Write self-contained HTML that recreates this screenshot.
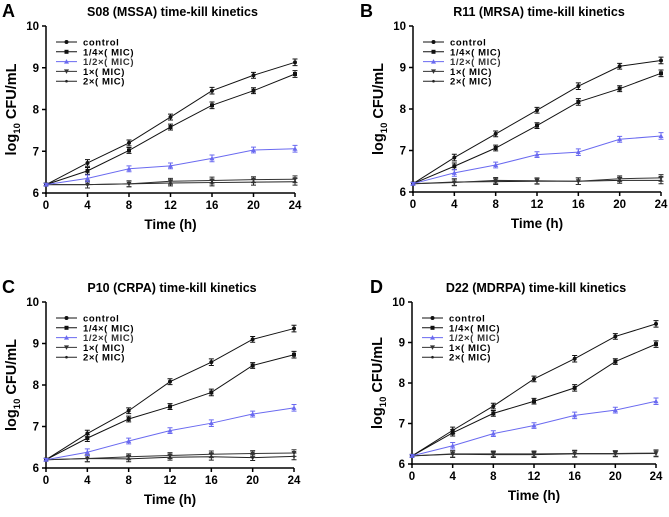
<!DOCTYPE html>
<html><head><meta charset="utf-8"><style>
body{margin:0;background:#fff;width:669px;height:512px;overflow:hidden}
svg text{font-family:"Liberation Sans",Arial,sans-serif;font-weight:bold}
</style></head><body>
<svg id="c" width="669" height="512" xmlns="http://www.w3.org/2000/svg"></svg>
<script>
const times=[0,4,8,12,16,20,24];
const yTicks=[6,7,8,9,10];
const seriesNames=["control","1/4×( MIC)","1/2×( MIC)","1×( MIC)","2×( MIC)"];
const aControl=[6.2,6.72,7.2,7.82,8.45,8.82,9.13];
const aQuarter=[6.2,6.53,7.02,7.58,8.1,8.45,8.85];
const aHalf=[6.2,6.35,6.58,6.65,6.83,7.03,7.06];
const aOne=[6.2,6.2,6.22,6.28,6.3,6.32,6.33];
const aTwo=[6.2,6.2,6.22,6.24,6.25,6.26,6.27];
const bControl=[6.2,6.83,7.4,7.97,8.55,9.03,9.17];
const bQuarter=[6.2,6.62,7.06,7.6,8.17,8.49,8.86];
const bHalf=[6.2,6.46,6.65,6.9,6.96,7.27,7.35];
const bOne=[6.2,6.23,6.28,6.27,6.26,6.32,6.34];
const bTwo=[6.2,6.24,6.25,6.26,6.26,6.28,6.28];
const cControl=[6.2,6.83,7.38,8.08,8.55,9.1,9.36];
const cQuarter=[6.2,6.72,7.18,7.48,7.82,8.47,8.73];
const cHalf=[6.2,6.38,6.65,6.9,7.08,7.3,7.45];
const cOne=[6.2,6.23,6.27,6.3,6.33,6.35,6.36];
const cTwo=[6.2,6.23,6.22,6.26,6.27,6.25,6.28];
const dControl=[6.2,6.83,7.43,8.1,8.6,9.15,9.46];
const dQuarter=[6.2,6.77,7.25,7.55,7.88,8.53,8.96];
const dHalf=[6.2,6.45,6.75,6.95,7.2,7.33,7.55];
const dOne=[6.2,6.25,6.25,6.25,6.26,6.26,6.27];
const dTwo=[6.2,6.24,6.23,6.23,6.25,6.25,6.26];
const errs=[0.03,0.08,0.07,0.07,0.08,0.07,0.08];

const panels=[
 {id:"a",letter:"A",title:"S08 (MSSA) time-kill kinetics",lx:2,ly:17,x0:46,x1:295,yt:26,yb:193,data:[aControl,aQuarter,aHalf,aOne,aTwo]},
 {id:"b",letter:"B",title:"R11 (MRSA) time-kill kinetics",lx:360,ly:17,x0:413,x1:661,yt:26,yb:192,data:[bControl,bQuarter,bHalf,bOne,bTwo]},
 {id:"c",letter:"C",title:"P10 (CRPA) time-kill kinetics",lx:2,ly:293,x0:46,x1:294,yt:302,yb:468,data:[cControl,cQuarter,cHalf,cOne,cTwo]},
 {id:"d",letter:"D",title:"D22 (MDRPA) time-kill kinetics",lx:370,ly:293,x0:412,x1:656,yt:302,yb:464,data:[dControl,dQuarter,dHalf,dOne,dTwo]}
];
const svg=document.getElementById('c');
const NS="http://www.w3.org/2000/svg";
function mk(tag,at,parent,txt){const e=document.createElementNS(NS,tag);for(const k in at)e.setAttribute(k,at[k]);if(txt!==undefined)e.textContent=txt;(parent||svg).appendChild(e);return e;}
const colors=["#111","#111","#6a6af0","#333","#222"];
function marker(g,s,x,y,col){
 let m;
 if(s===1)m=mk('rect',{x:x-2,y:y-2,width:4,height:4,fill:col},g);
 else if(s===2)m=mk('polygon',{points:`${x},${y-2.5} ${x-2.5},${y+2} ${x+2.5},${y+2}`,fill:col},g);
 else if(s===3)m=mk('polygon',{points:`${x},${y+2.5} ${x-2.5},${y-2} ${x+2.5},${y-2}`,fill:col},g);
 else if(s===4)m=mk('circle',{cx:x,cy:y,r:1.3,fill:col},g);
 else m=mk('circle',{cx:x,cy:y,r:2,fill:col},g);
 
 
}
panels.forEach(p=>{
 const g=mk('g',{});
 
 
 const X=t=>p.x0+(t-0)/24*(p.x1-p.x0);
 const Y=v=>p.yb-(v-6)/4*(p.yb-p.yt);
 const L=mk('text',{x:p.lx,y:p.ly,'font-size':18},g,p.letter);
 
 const T=mk('text',{x:(p.x0+p.x1)/2+2,y:p.yt-10,'font-size':12.5,'text-anchor':'middle'},g,p.title);
 
 const ya=mk('line',{x1:p.x0,y1:p.yt,x2:p.x0,y2:p.yb+1,stroke:'#000','stroke-width':1.5},g);
 
 const xa=mk('line',{x1:p.x0-1,y1:p.yb,x2:p.x1,y2:p.yb,stroke:'#000','stroke-width':1.5},g);
 
 yTicks.forEach(v=>{
  mk('line',{x1:p.x0-4,y1:Y(v),x2:p.x0,y2:Y(v),stroke:'#000','stroke-width':1.5},g);
  const t=mk('text',{x:p.x0-7,y:Y(v)+4,'font-size':11.5,'text-anchor':'end'},g,v);
  
 });
 times.forEach(v=>{
  mk('line',{x1:X(v),y1:p.yb,x2:X(v),y2:p.yb+4,stroke:'#000','stroke-width':1.5},g);
  const t=mk('text',{x:X(v),y:p.yb+16,'font-size':11.5,'text-anchor':'middle'},g,v);
  
 });
 const xt=mk('text',{x:(p.x0+p.x1)/2,y:p.yb+36,'font-size':13.5,'text-anchor':'middle'},g,'Time (h)');
 
 const cy=(p.yt+p.yb)/2;
 const yt=mk('text',{x:p.x0-30,y:cy,'font-size':14.5,'text-anchor':'middle',transform:`rotate(-90 ${p.x0-30} ${cy})`},g);
 
 mk('tspan',{},yt,'log');mk('tspan',{'font-size':9.5,dy:4},yt,'10');mk('tspan',{dy:-4},yt,' CFU/mL');
 [4,3,1,0,2].forEach(s=>{
  const vals=p.data[s],col=colors[s];
  const pts=times.map((t,i)=>X(t)+','+Y(vals[i])).join(' ');
  const pl=mk('polyline',{points:pts,fill:'none',stroke:col,'stroke-width':1},g);
  
  times.forEach((t,i)=>{
   const x=X(t),y1=Y(vals[i]-errs[i]),y2=Y(vals[i]+errs[i]);
   const eb=mk('path',{d:`M${x},${y1}V${y2}M${x-2.5},${y1}H${x+2.5}M${x-2.5},${y2}H${x+2.5}`,stroke:col,'stroke-width':1,fill:'none'},g);
   
   marker(g,s,x,Y(vals[i]),col);
  });
 });
 seriesNames.forEach((n,s)=>{
  const ly=p.yt+16+s*9.8;
  const col=colors[s];
  mk('line',{x1:p.x0+10,y1:ly,x2:p.x0+31,y2:ly,stroke:col,'stroke-width':1},g);
  marker(g,s,p.x0+20.5,ly,col);
  const t=mk('text',{x:p.x0+37,y:ly+3.5,'font-size':9.5,'letter-spacing':0.6,fill:s===2?'#333':'#000'},g,n);
  
 });
});
</script>
</body></html>
